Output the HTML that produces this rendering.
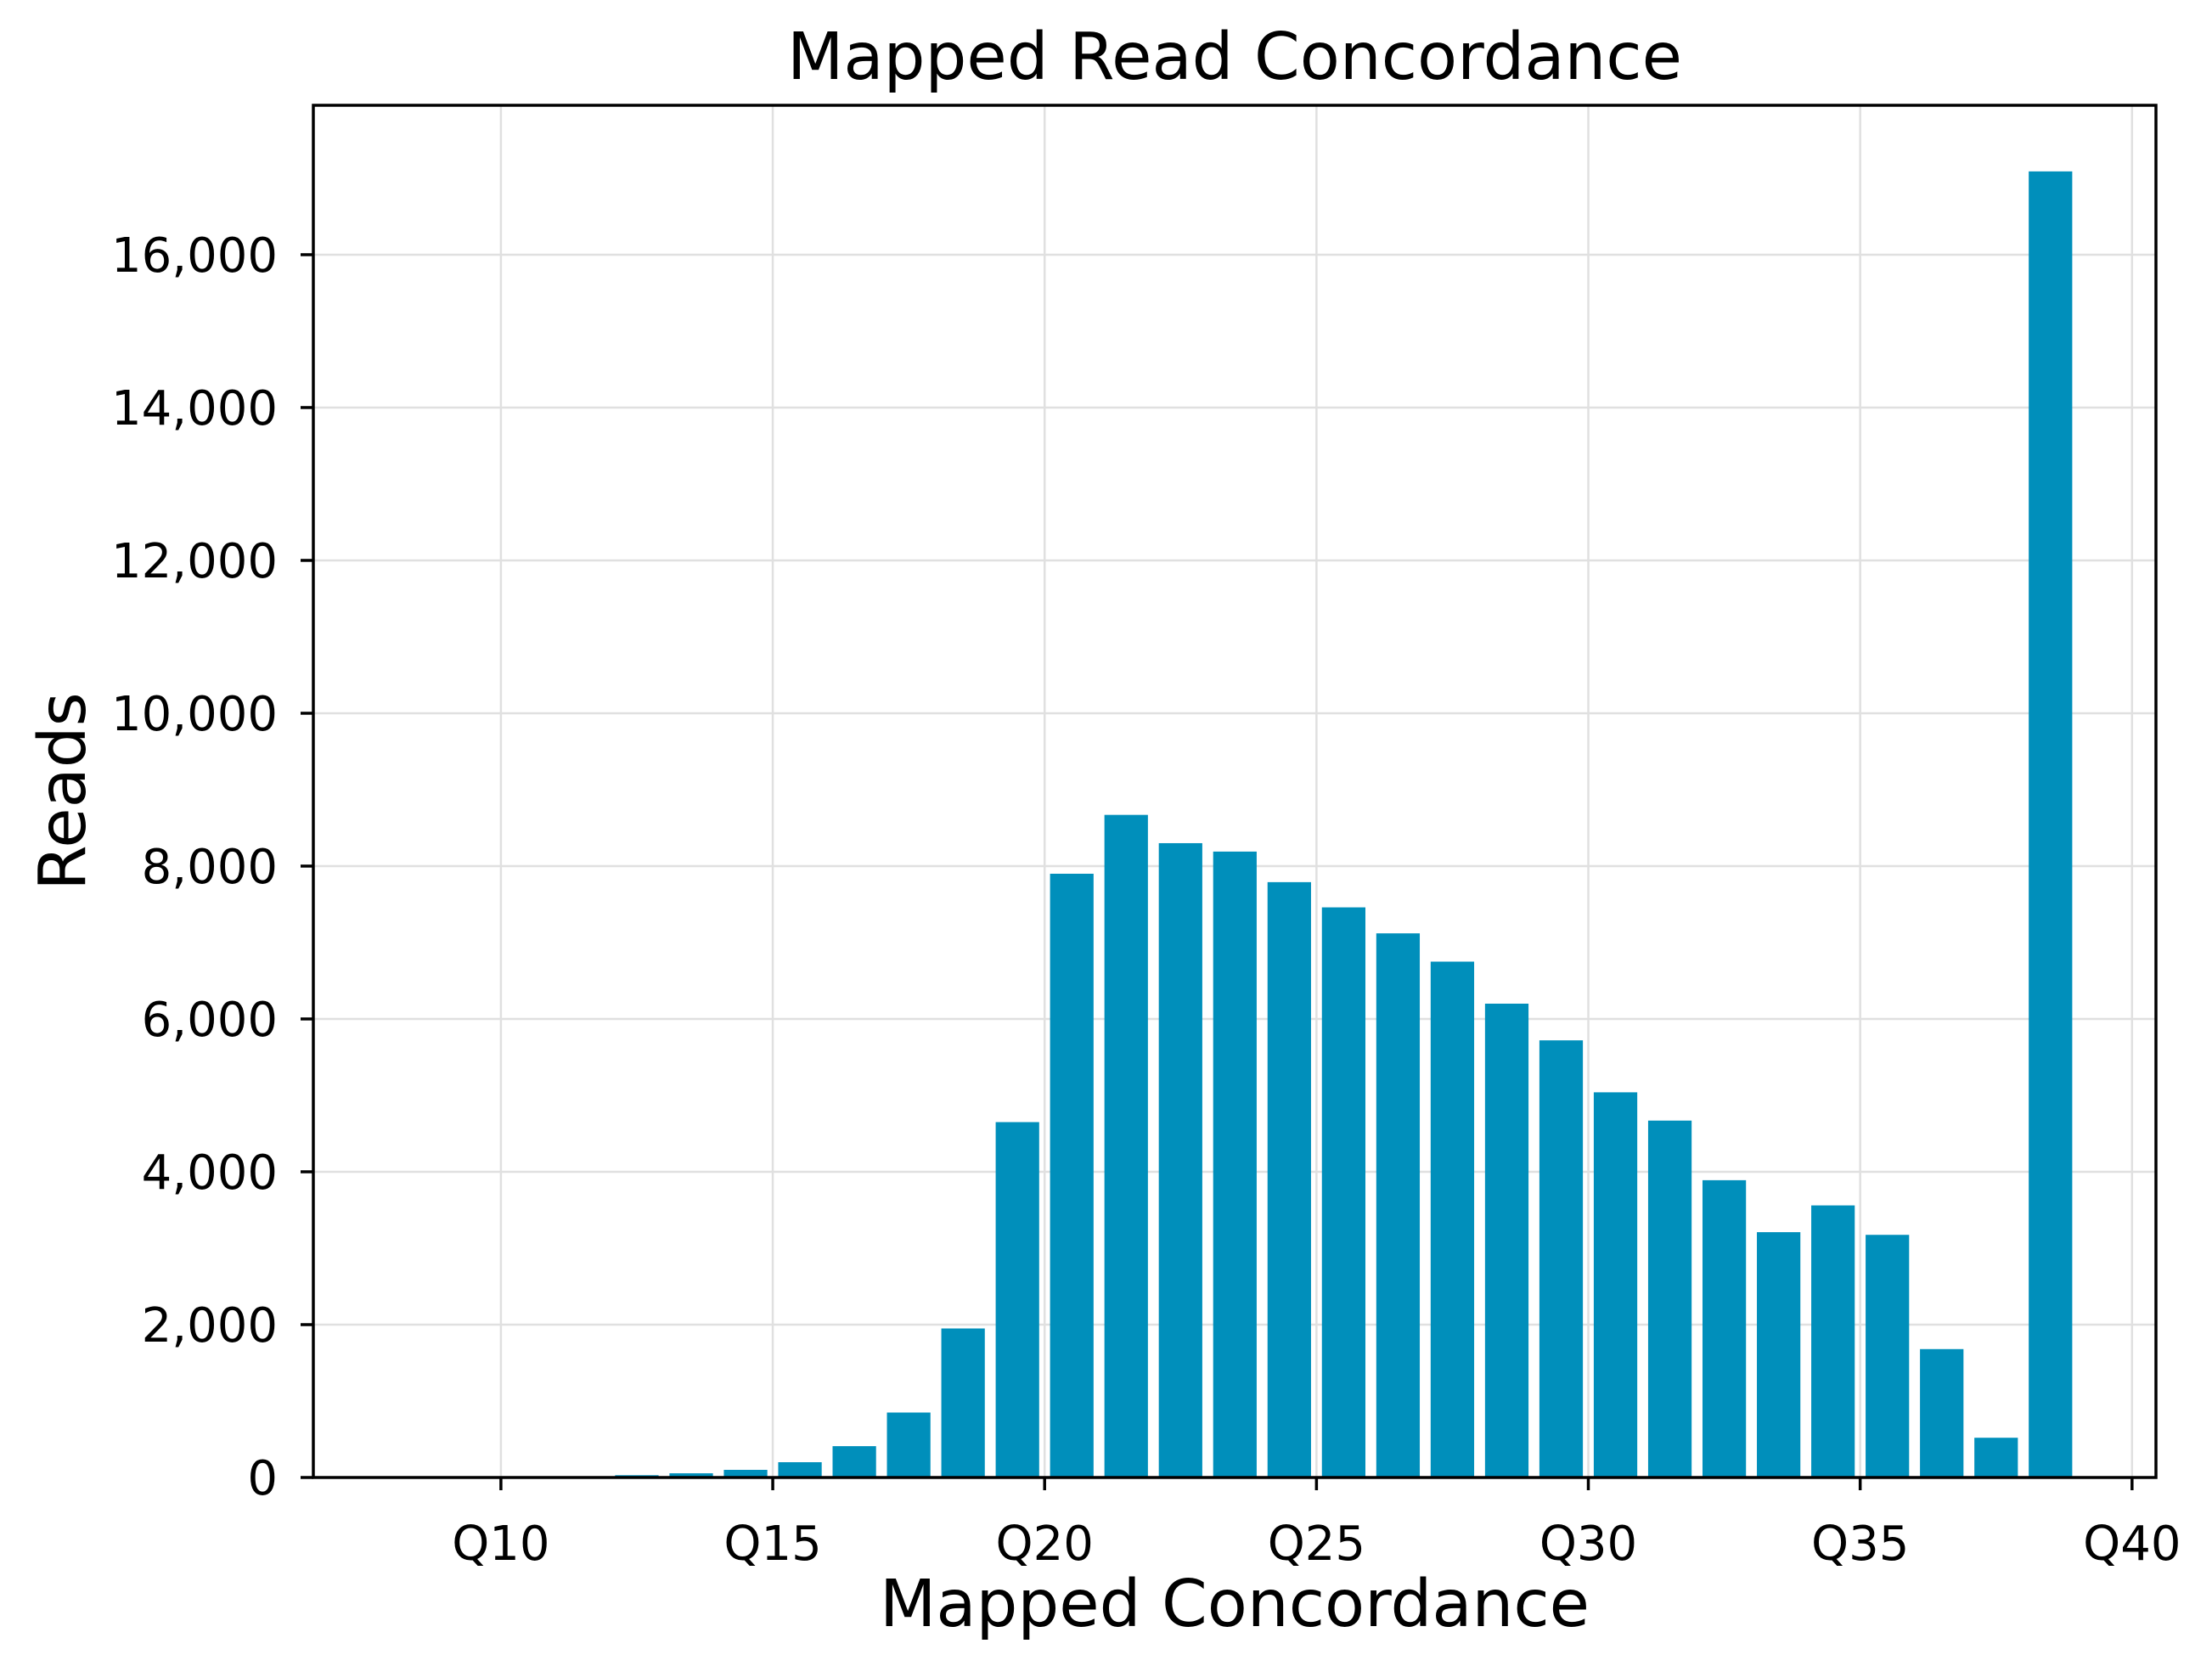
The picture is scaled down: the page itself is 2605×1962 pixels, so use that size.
<!DOCTYPE html>
<html><head><meta charset="utf-8"><style>
body{margin:0;background:#fff}
svg{display:block;font-family:"DejaVu Sans","Liberation Sans",sans-serif}
</style></head><body>
<svg id="chart" width="2605" height="1962" xmlns="http://www.w3.org/2000/svg">
<rect width="2605" height="1962" fill="#fff"/>
<g id="grid"></g>
<g id="bars"></g>
<g id="axes"></g>
<text x="1454" y="93" font-size="77" text-anchor="middle">Mapped Read Concordance</text>
<text x="1454" y="1915" font-size="77" text-anchor="middle">Mapped Concordance</text>
<text x="0" y="0" font-size="77" text-anchor="middle" transform="translate(100,932) rotate(-90)">Reads</text>
</svg>
<script>
const categories = [7.5,8.5,9.5,10.5,11.5,12.5,13.5,14.5,15.5,16.5,17.5,18.5,19.5,20.5,21.5,22.5,23.5,24.5,25.5,26.5,27.5,28.5,29.5,30.5,31.5,32.5,33.5,34.5,35.5,36.5,37.5,38.5];
const readCounts = [0,0,0,0,0,30,55,100,200,410,850,1950,4650,7900,8670,8300,8190,7790,7460,7120,6750,6200,5720,5040,4670,3890,3210,3560,3175,1680,520,17090];
const xTicks = [10,15,20,25,30,35,40];
const xTickLabels = ["Q10","Q15","Q20","Q25","Q30","Q35","Q40"];
const yTicks = [0,2000,4000,6000,8000,10000,12000,14000,16000];
const yTickLabels = ["0","2,000","4,000","6,000","8,000","10,000","12,000","14,000","16,000"];

const L=369,R=2539,T=124,B=1740;
const xMin=6.55,xMax=40.44,yMax=17955;
const xs=q=>L+(q-xMin)/(xMax-xMin)*(R-L);
const ys=v=>B-v/yMax*(B-T);
const NS="http://www.w3.org/2000/svg";
function mk(tag,attrs,parent){const e=document.createElementNS(NS,tag);for(const k in attrs)e.setAttribute(k,attrs[k]);parent.appendChild(e);return e;}
const grid=document.getElementById('grid'),bars=document.getElementById('bars'),axes=document.getElementById('axes');

xTicks.forEach((t,i)=>{
  const x=xs(t);
  const g=mk('line',{x1:x,x2:x,y1:T,y2:B,stroke:'#e0e0e0','stroke-width':2.5},grid);
  
  
  const tk=mk('line',{x1:x,x2:x,y1:B,y2:B+15,stroke:'#000','stroke-width':3.5},axes);
  
  
  const lb=mk('text',{x:x,y:B+97,'font-size':56,'text-anchor':'middle'},axes);
  lb.textContent=xTickLabels[i];
  
  
});
yTicks.forEach((t,i)=>{
  const y=ys(t);
  const g=mk('line',{x1:L,x2:R,y1:y,y2:y,stroke:'#e0e0e0','stroke-width':2.5},grid);
  
  
  const tk=mk('line',{x1:L-15,x2:L,y1:y,y2:y,stroke:'#000','stroke-width':3.5},axes);
  
  
  const lb=mk('text',{x:L-42,y:y+20,'font-size':56,'text-anchor':'end'},axes);
  lb.textContent=yTickLabels[i];
  
  
});
categories.forEach((c,i)=>{
  const w=0.8,x0=xs(c-w/2),x1=xs(c+w/2),y=ys(readCounts[i]);
  const r=mk('rect',{x:x0,y:y,width:x1-x0,height:B-y,fill:'#008fbb'},bars);
  
  
});
const frame=mk('rect',{x:L,y:T,width:R-L,height:B-T,fill:'none',stroke:'#000','stroke-width':3.5},axes);


</script>
</body></html>
